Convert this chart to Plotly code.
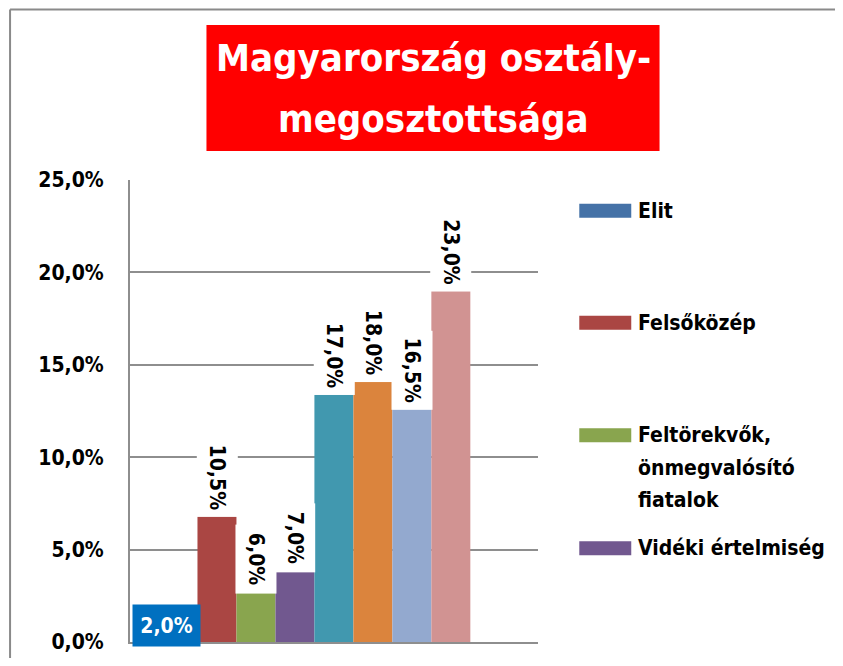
import plotly.graph_objects as go

# ---------------- data ----------------
series_names = ["Elit", "Felsőközép", "Feltörekvők,<br>önmegvalósító<br>fiatalok",
                "Vidéki értelmiség", "", "", "", ""]
bar_heights = [0.5, 6.8, 2.65, 3.8, 13.4, 14.1, 12.6, 19.0]
value_labels = ["2,0%", "10,5%", "6,0%", "7,0%", "17,0%", "18,0%", "16,5%", "23,0%"]
legend_count = 4
y_tickvals = [0, 5, 10, 15, 20, 25]
y_ticktext = ["0,0%", "5,0%", "10,0%", "15,0%", "20,0%", "25,0%"]
title_lines = ["Magyarország osztály-", "megosztottsága"]

# ---------------- style ----------------
colors = ["#4572A7", "#AA4643", "#89A54E", "#71588F",
          "#4198AF", "#DB843D", "#93A9CF", "#D19392"]
FONT = "DejaVu Sans Condensed, Liberation Sans Narrow, Arial Narrow, sans-serif"
OFF = 8                      # page body margin
W, H = 843 - OFF, 666 - 2 * OFF
# plot area in page pixels
L, R, T, B = 129.5, 537.7, 180, 642
GRID = "#8E8E8E"

def px(x):
    return (x - L) / (R - L)

def py(y):
    return (B - y) / (B - T)

BARGAP = 0.2
n = len(bar_heights)
bw = (1 - BARGAP) / n
centers = [-(1 - BARGAP) / 2 + (i + 0.5) * bw for i in range(n)]
unit = 312 / (1 - BARGAP)    # group of bars spans 158..470 px
gc = 314
xr = [(L - gc) / unit, (R - gc) / unit]

fig = go.Figure()
for i in range(n):
    fig.add_trace(go.Bar(x=["c"], y=[bar_heights[i]], name=series_names[i],
                         marker=dict(color=colors[i], line=dict(width=0)),
                         showlegend=False, hoverinfo="skip"))

annotations = []
shapes = []
FS = 21

# value labels
for i in range(n):
    if i == 0:
        annotations.append(dict(
            x=centers[i], y=0, xref="x", yref="y", text=value_labels[i],
            showarrow=False, xanchor="center", yanchor="middle",
            xshift=-11, yshift=16.5, width=67, height=41, borderpad=0,
            bgcolor="#0070C0",
            font=dict(family=FONT, size=FS, color="white", weight="bold")))
    else:
        wdt = 68 if len(value_labels[i]) <= 4 else 78
        annotations.append(dict(
            x=centers[i], y=bar_heights[i], xref="x", yref="y", text=value_labels[i],
            showarrow=False, xanchor="center", yanchor="middle", textangle=90,
            yshift=wdt / 2, width=wdt, height=40, borderpad=0, bgcolor="white",
            font=dict(family=FONT, size=FS, color="black", weight="bold")))

# title box
shapes.append(dict(type="rect", xref="paper", yref="paper",
                   x0=px(206), x1=px(659.3), y0=py(151), y1=py(25),
                   fillcolor="#FF0000", line=dict(width=0), layer="above"))
title_y = [58, 119]
for t, yy in zip(title_lines, title_y):
    annotations.append(dict(x=px(433), y=py(yy), xref="paper", yref="paper",
                            text=t, showarrow=False, xanchor="center", yanchor="middle",
                            font=dict(family=FONT, size=38, color="white", weight="bold")))

# custom legend
leg_y = [210.7, 322.7, 435.3, 548.3]
for i in range(legend_count):
    yc = leg_y[i]
    shapes.append(dict(type="rect", xref="paper", yref="paper",
                       x0=px(579), x1=px(631), y0=py(yc + 7), y1=py(yc - 7),
                       fillcolor=colors[i], line=dict(width=0), layer="above"))
    for k, line in enumerate(series_names[i].split("<br>")):
        annotations.append(dict(x=px(636), y=py(yc + k * 32.5), xref="paper", yref="paper",
                                text=line, showarrow=False, align="left",
                                xanchor="left", yanchor="middle",
                                font=dict(family=FONT, size=FS, color="black", weight="bold")))

# outer border (left + top)
shapes.append(dict(type="line", xref="paper", yref="paper",
                   x0=px(9.5), x1=px(843), y0=py(9.5), y1=py(9.5),
                   line=dict(color="#8A8A8A", width=2)))
shapes.append(dict(type="line", xref="paper", yref="paper",
                   x0=px(9.5), x1=px(9.5), y0=py(9.5), y1=py(666),
                   line=dict(color="#8A8A8A", width=2)))

fig.update_layout(
    width=W, height=H,
    margin=dict(l=L - OFF, r=W - (R - OFF), t=T - OFF, b=H - (B - OFF), pad=0,
                autoexpand=False),
    paper_bgcolor="white", plot_bgcolor="white",
    barmode="group", bargap=BARGAP, bargroupgap=0,
    showlegend=False,
    annotations=annotations, shapes=shapes,
    xaxis=dict(range=xr, showticklabels=False, showgrid=False, zeroline=False,
               showline=True, linecolor=GRID, linewidth=2, ticks="", automargin=False),
    yaxis=dict(range=[0, 25], tickvals=y_tickvals, ticktext=y_ticktext,
               showgrid=True, gridcolor=GRID, gridwidth=2, zeroline=False,
               showline=True, linecolor=GRID, linewidth=2, ticks="",
               ticklabelstandoff=20, automargin=False, ticklabeloverflow="allow",
               tickfont=dict(family=FONT, size=FS, color="black", weight="bold")),
)

fig.write_html("out.html", config={"displayModeBar": False})
